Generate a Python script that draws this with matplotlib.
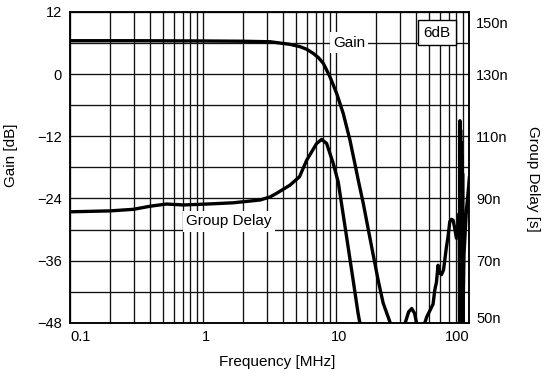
import matplotlib
matplotlib.use("Agg")
import matplotlib.pyplot as plt
import matplotlib.transforms as mtransforms
from matplotlib.ticker import NullFormatter
import numpy as np

plt.rcParams["font.family"] = ["Liberation Sans", "DejaVu Sans"]
plt.rcParams["font.size"] = 11

# frequency response, gain in dB
gain_freq_mhz = [0.1, 0.3, 1.0, 2.0, 3.19, 3.78, 4.5, 5.34, 6.0, 6.72, 7.34, 7.99,
                 8.97, 10.07, 11.29, 12.67, 13.81, 14.62, 15.95, 18.44, 20.66,
                 22.52, 25.28, 26.5]
gain_db = [6.45, 6.45, 6.4, 6.35, 6.25, 6.0, 5.75, 5.3, 4.8, 4.0, 3.2, 2.1,
           -0.5, -3.7, -7.6, -12.7, -17.3, -20.4, -24.9, -33.3, -39.8,
           -44.2, -47.8, -50.0]

# group delay in ns; the trace gets noisy above ~30 MHz
delay_freq_mhz = [0.1, 0.2, 0.3, 0.4, 0.53, 0.71, 1.07, 1.68, 2.68, 3.19, 3.58,
                  4.5, 5.3, 6.0, 7.13, 7.77, 8.47, 9.49, 10.35, 10.66, 11.96,
                  13.4, 14.6, 15.0, 15.6,
                  32.5, 33.0, 35.0, 36.9, 38.8, 40.1, 40.8, 45.5, 46.3, 48.0,
                  50.4, 53.4, 55.0, 56.6, 58.2, 59.9, 61.8, 64.0, 67.3, 69.2,
                  71.3, 73.4, 75.5, 77.7, 80.0, 82.3, 84.0, 84.5, 85.0, 85.5,
                  86.0, 86.5, 87.0, 87.5, 88.0, 88.5, 89.0, 89.5, 91.2, 95.1,
                  97.8, 100.0]
delay_ns = [85.7, 86.0, 86.5, 87.5, 88.2, 87.9, 88.2, 88.6, 89.5, 90.5, 91.7,
            94.3, 97.0, 102.3, 107.7, 109.0, 107.7, 101.3, 95.3, 91.7, 77.7,
            63.7, 53.0, 50.3, 45.0,
            45.0, 50.0, 53.5, 54.6, 53.0, 50.0, 45.0, 45.0, 50.0, 52.0,
            53.8, 56.0, 60.5, 63.0, 68.5, 66.0, 65.5, 67.0, 74.4, 77.7,
            82.5, 83.3, 83.0, 80.4, 77.2, 79.8, 85.2, 45.0, 115.0, 45.0,
            112.0, 45.0, 108.0, 45.0, 104.0, 45.0, 98.0, 50.0, 72.0, 86.3,
            91.6, 96.6]

gain_ticks = [-48, -36, -24, -12, 0, 12]
delay_ticks = [50, 70, 90, 110, 130, 150]
freq_ticks = [0.1, 1, 10, 100]
freq_ticklabels = ["0.1", "1", "10", "100"]

fig = plt.figure(figsize=(5.47, 3.74), dpi=100)
ax = fig.add_axes([0.128, 0.137, 0.730, 0.831])

ax.set_xscale("log")
ax.set_xlim(0.1, 100)
ax.set_ylim(-48, 12)
ax.set_xticks(freq_ticks)
ax.set_xticklabels(freq_ticklabels)
ax.xaxis.set_minor_formatter(NullFormatter())
ax.set_yticks(gain_ticks)
ax.set_yticks(np.arange(-48, 13, 6), minor=True)
ax.grid(which="both", color="#111111", lw=0.95)
ax.tick_params(which="both", length=0, labelsize=10.5)
ax.tick_params(axis="x", pad=5)
ax.tick_params(axis="y", pad=6)
for s in ax.spines.values():
    s.set_linewidth(1.1)

# end labels sit inside the frame
xlabels = ax.get_xticklabels()
xlabels[0].set_ha("left")
xlabels[-1].set_ha("right")
for lab in xlabels[1:3]:
    lab.set_transform(lab.get_transform() +
                      mtransforms.ScaledTranslation(0.03, 0, fig.dpi_scale_trans))

ax.plot(gain_freq_mhz, gain_db, color="black", lw=2.4,
        solid_joinstyle="round", zorder=3)

ax.set_xlabel("Frequency [MHz]")
ax.xaxis.set_label_coords(0.518, -0.104)
ax.set_ylabel("Gain [dB]")
ax.yaxis.set_label_coords(-0.130, 0.538)

ax2 = ax.twinx()
ax2.set_ylim(50, 150)
ax2.set_yticks(delay_ticks)
ax2.set_yticklabels([f"{v}n" for v in delay_ticks])
ax2.tick_params(length=0, pad=5, labelsize=10.5)
for s in ax2.spines.values():
    s.set_linewidth(1.1)
ylabels = ax2.get_yticklabels()
ylabels[0].set_transform(ylabels[0].get_transform() +
                         mtransforms.ScaledTranslation(0, 0.05, fig.dpi_scale_trans))
ylabels[-1].set_transform(ylabels[-1].get_transform() +
                          mtransforms.ScaledTranslation(0, -0.11, fig.dpi_scale_trans))
ax2.plot(delay_freq_mhz, delay_ns, color="black", lw=2.4,
         solid_joinstyle="round", zorder=3)
ax2.set_ylabel("Group Delay [s]", rotation=270, ha="center", va="center")
ax2.yaxis.set_label_coords(1.159, 0.4625)

ax.text(12.45, 6.1, "Gain", ha="center", va="center", zorder=4,
        bbox=dict(boxstyle="square,pad=0.2", facecolor="white", edgecolor="none"))
ax.text(1.567, -28.45, "Group Delay", ha="center", va="center", zorder=4,
        bbox=dict(boxstyle="square,pad=0.2", facecolor="white", edgecolor="none"))
ax.text(57.4, 8.0, "6dB", ha="center", va="center", zorder=4,
        bbox=dict(boxstyle="square,pad=0.35", facecolor="white",
                  edgecolor="black", linewidth=1.0))

fig.savefig("out.png", dpi=100)
